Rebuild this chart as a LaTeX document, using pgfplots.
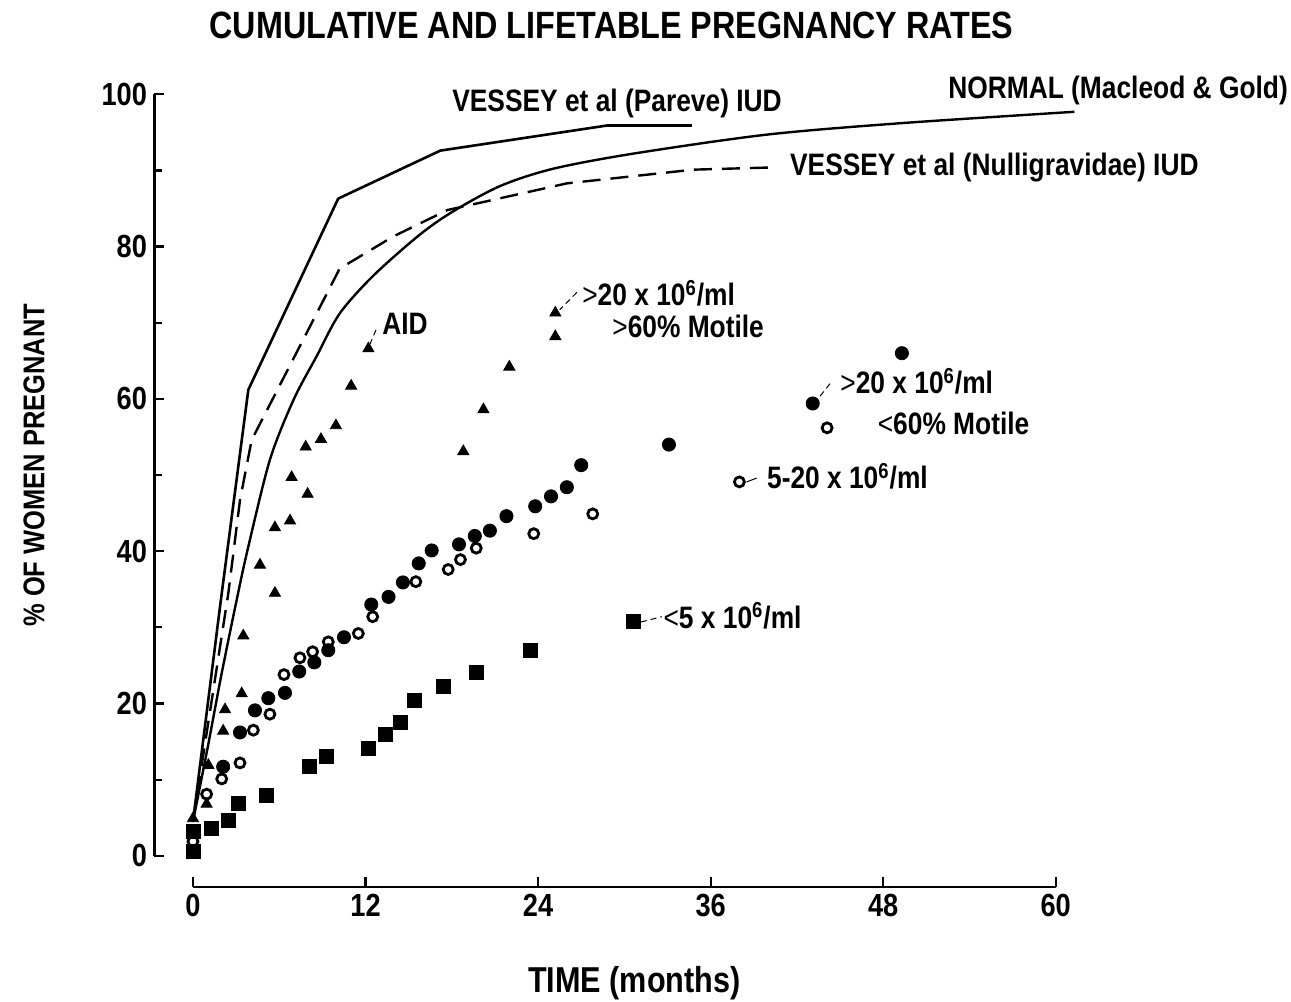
\documentclass[border=0pt]{standalone}
\usepackage{fontspec}
\setmainfont{Liberation Sans}[FakeStretch=0.85]
\usepackage{pgfplots}
\pgfplotsset{compat=1.18}
\newcommand\lab{\bfseries\fontsize{15.5}{15.5}\selectfont}
\begin{document}
\begin{tikzpicture}
\begin{axis}[
  scale only axis, width=451pt, height=396.5pt,
  xmin=-2.71, xmax=60, ymin=-4.1, ymax=100,
  axis lines=left,
  axis line style={draw=none},
  xtick={0,12,24,36,48,60},
  ytick={0,20,40,60,80,100},
  minor ytick={10,30,50,70,90},
  tick align=inside,
  major tick length=5pt, minor tick length=4pt,
  tick style={line width=1.1pt, black},
  tick label style={font=\bfseries\fontsize{16}{16}\selectfont},
  /pgf/number format/assume math mode=true,
  clip=false,
]
% axis lines (detached, as in the original)
\addplot[black, line width=1.5pt, forget plot] coordinates {(-2.71,0) (-2.71,100)};
\addplot[black, line width=1.4pt, forget plot] coordinates {(0,-4.1) (60,-4.1)};
% Pareve IUD
\addplot[black, line width=1.3pt, line join=round] coordinates {
 (0,4.5) (1.9,33) (3.85,61.2) (10.1,86.3) (17.2,92.6) (28.8,95.9) (34.7,95.9)};
% Nulligravidae IUD (dashed)
\addplot[black, line width=1.2pt, dash pattern=on 9pt off 5pt] coordinates {
 (0,4.5) (2.46,34.5) (3.27,46.7) (4.08,54.6) (10.2,77.1) (13.9,81.3) (17.7,84.8) (26,88.3) (34.8,90.1) (40.4,90.4)};
% Normal
\addplot[black, line width=1.2pt, smooth, tension=0.5] coordinates {
 (0,4.5) (1,14) (2,24) (3.04,33.6) (3.8,40.2) (5.35,52) (7,59.9) (8.6,65.6) (10.2,71.2) (12.5,76.1) (15.6,81.3) (17.9,84.4) (21.3,87.9) (25,90.2) (30.6,92.2) (39.9,94.7) (49.2,96.2) (61.3,97.7)};
% AID / >20 >60% triangles
\addplot[only marks, mark=triangle*, mark size=3.2pt, black] coordinates {
 (0,4.9) (0.95,6.8) (1.07,11.9) (2.1,16.4) (2.23,19.2) (3.39,21.3) (3.5,28.9) (4.66,38.2) (5.7,34.5) (5.7,43.1) (6.75,44.0) (6.86,49.7) (7.97,47.5) (7.84,53.7) (8.9,54.7) (9.94,56.5) (11.0,61.7) (12.2,66.6) (18.8,53.1) (20.2,58.6) (22.0,64.2) (25.2,68.2) (25.2,71.3)};
% >20 <60% filled circles
\addplot[only marks, mark=*, mark size=3.3pt, black] coordinates {
 (2.1,11.7) (3.27,16.2) (4.31,19.1) (5.24,20.7) (6.4,21.4) (7.39,24.2) (8.44,25.4) (9.41,27.0) (10.5,28.7) (12.4,33.0) (13.6,34.0) (14.6,35.9) (15.7,38.4) (16.6,40.1) (18.5,40.9) (19.6,42.0) (20.65,42.7) (21.8,44.6) (23.8,45.9) (24.9,47.2) (26.0,48.4) (27.0,51.3) (33.1,54.0) (43.1,59.4) (49.3,66.0)};
% 5-20 open circles
\addplot[only marks, mark=o, mark size=2.5pt, black, line width=1.4pt] coordinates {
 (0,1.9) (0.95,8.1) (2.0,10.1) (3.27,12.2) (4.2,16.5) (5.35,18.6) (6.33,23.8) (7.44,26.0) (8.32,26.8) (9.41,28.1) (11.5,29.2) (12.5,31.4) (15.5,36.0) (17.75,37.6) (18.6,38.9) (19.7,40.4) (23.7,42.3) (27.8,44.9) (38.0,49.1) (44.1,56.2)};
% <5 squares
\addplot[only marks, mark=square*, mark size=3.5pt, black] coordinates {
 (0,0.6) (0,3.2) (1.3,3.6) (2.46,4.7) (3.15,6.9) (5.08,7.9) (8.09,11.7) (9.3,13.0) (12.2,14.1) (13.35,15.9) (14.4,17.5) (15.4,20.4) (17.4,22.3) (19.7,24.1) (23.5,27.0) (30.6,30.8)};

% titles
\node[font=\bfseries\fontsize{19}{19}\selectfont] at (axis cs:29.1,109.1) {CUMULATIVE AND LIFETABLE PREGNANCY RATES};
\node[font=\bfseries\fontsize{15}{15}\selectfont, rotate=90] at (axis cs:-11.06,51.3) {\% OF WOMEN PREGNANT};
\node[font=\bfseries\fontsize{18}{18}\selectfont] at (axis cs:30.7,-16.7) {TIME (months)};

% annotations
\node[anchor=base west, inner sep=0pt, font=\lab] at (axis cs:18.01,97.7) {VESSEY et al (Pareve) IUD};
\node[anchor=base west, inner sep=0pt, font=\lab] at (axis cs:52.5,99.5) {NORMAL (Macleod \& Gold)};
\node[anchor=base west, inner sep=0pt, font=\lab] at (axis cs:41.5,89.3) {VESSEY et al (Nulligravidae) IUD};
\node[anchor=base west, inner sep=0pt, font=\lab] at (axis cs:13.14,68.5) {AID};
\node[anchor=base west, inner sep=0pt, font=\lab] at (axis cs:27.05,72.2) {{\mdseries >}20 x 10\textsuperscript{6}/ml};
\node[anchor=base west, inner sep=0pt, font=\lab] at (axis cs:29.14,68.0) {{\mdseries >}60\% Motile};
\node[anchor=base west, inner sep=0pt, font=\lab] at (axis cs:45.0,60.65) {{\mdseries >}20 x 10\textsuperscript{6}/ml};
\node[anchor=base west, inner sep=0pt, font=\lab] at (axis cs:47.6,55.3) {{\mdseries <}60\% Motile};
\node[anchor=base west, inner sep=0pt, font=\lab] at (axis cs:39.9,48.2) {5-20 x 10\textsuperscript{6}/ml};
\node[anchor=base west, inner sep=0pt, font=\lab] at (axis cs:32.7,29.9) {{\mdseries <}5 x 10\textsuperscript{6}/ml};
% leaders
\draw[densely dashed, line width=0.5pt] (axis cs:12.73,69.06) -- (axis cs:12.31,67.2);
\draw[densely dashed, line width=0.5pt] (axis cs:26.7,74.0) -- (axis cs:25.5,71.7);
\draw[densely dashed, line width=0.5pt] (axis cs:44.3,62.0) -- (axis cs:43.5,60.1);
\draw[line width=0.5pt] (axis cs:38.5,49.1) -- (axis cs:39.2,49.6);
\draw[densely dashed, line width=0.5pt] (axis cs:31.15,30.7) -- (axis cs:32.6,31.4);
\coordinate (tl) at (axis cs:-13.42,112.38);
\coordinate (br) at (axis cs:76.36,-19.17);
\end{axis}
\pgfresetboundingbox
\path (tl) rectangle (br);
\end{tikzpicture}
\end{document}
